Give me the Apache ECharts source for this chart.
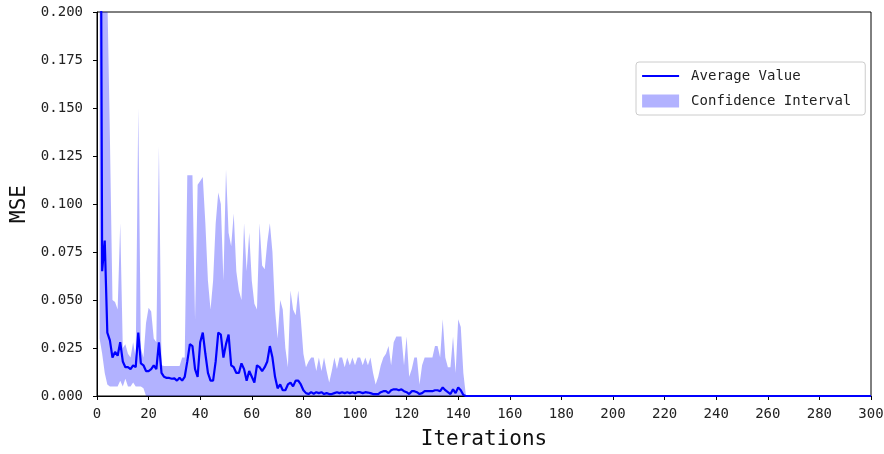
<!DOCTYPE html>
<html>
<head>
<meta charset="utf-8">
<script src="https://cdn.jsdelivr.net/npm/echarts@6/dist/echarts.min.js"></script>
<style>html,body{margin:0;padding:0;background:#fff;}#c{width:884px;height:454px;}</style>
</head>
<body>
<div id="c"></div>
<script>
// Iterations 1..300 (index + 1)
const meanValues = [
  0.45, 0.065, 0.081, 0.033, 0.029, 0.020, 0.023, 0.021, 0.028, 0.018,
  0.015, 0.015, 0.014, 0.016, 0.015, 0.033, 0.017, 0.016, 0.013, 0.013,
  0.014, 0.016, 0.014, 0.028, 0.012, 0.010, 0.0094, 0.0094, 0.0090, 0.0092,
  0.008, 0.0095, 0.008, 0.010, 0.018, 0.027, 0.026, 0.014, 0.010, 0.028,
  0.033, 0.022, 0.012, 0.008, 0.008, 0.018, 0.033, 0.032, 0.020, 0.027,
  0.032, 0.016, 0.015, 0.012, 0.012, 0.017, 0.014, 0.008, 0.013, 0.010,
  0.007, 0.016, 0.015, 0.013, 0.015, 0.018, 0.026, 0.020, 0.010, 0.004,
  0.006, 0.003, 0.003, 0.006, 0.007, 0.005, 0.008, 0.008, 0.006, 0.003,
  0.0015, 0.001, 0.002, 0.0012, 0.002, 0.0015, 0.002, 0.001, 0.0015, 0.001,
  0.001, 0.0015, 0.002, 0.0015, 0.002, 0.0015, 0.002, 0.0015, 0.002, 0.0015,
  0.002, 0.002, 0.0015, 0.002, 0.0018, 0.0015, 0.001, 0.001, 0.001, 0.002,
  0.0025, 0.0025, 0.0015, 0.003, 0.0035, 0.0035, 0.003, 0.0035, 0.0025, 0.002,
  0.001, 0.0025, 0.0025, 0.002, 0.001, 0.0015, 0.0025, 0.0025, 0.0025, 0.0025,
  0.003, 0.003, 0.0025, 0.0045, 0.003, 0.002, 0.001, 0.0035, 0.0015, 0.0045,
  0.003, 0.0005, 0, 0, 0, 0, 0, 0, 0, 0,
  0, 0, 0, 0, 0, 0, 0, 0, 0, 0,
  0, 0, 0, 0, 0, 0, 0, 0, 0, 0,
  0, 0, 0, 0, 0, 0, 0, 0, 0, 0,
  0, 0, 0, 0, 0, 0, 0, 0, 0, 0,
  0, 0, 0, 0, 0, 0, 0, 0, 0, 0,
  0, 0, 0, 0, 0, 0, 0, 0, 0, 0,
  0, 0, 0, 0, 0, 0, 0, 0, 0, 0,
  0, 0, 0, 0, 0, 0, 0, 0, 0, 0,
  0, 0, 0, 0, 0, 0, 0, 0, 0, 0,
  0, 0, 0, 0, 0, 0, 0, 0, 0, 0,
  0, 0, 0, 0, 0, 0, 0, 0, 0, 0,
  0, 0, 0, 0, 0, 0, 0, 0, 0, 0,
  0, 0, 0, 0, 0, 0, 0, 0, 0, 0,
  0, 0, 0, 0, 0, 0, 0, 0, 0, 0,
  0, 0, 0, 0, 0, 0, 0, 0, 0, 0
];
const upperValues = [
  0.6, 0.45, 0.3, 0.21, 0.135, 0.050, 0.049, 0.045, 0.090, 0.025,
  0.027, 0.022, 0.020, 0.028, 0.020, 0.150, 0.025, 0.020, 0.038, 0.046,
  0.044, 0.030, 0.028, 0.130, 0.016, 0.0156, 0.0156, 0.0156, 0.0156, 0.0156,
  0.0156, 0.0156, 0.020, 0.020, 0.115, 0.115, 0.115, 0.040, 0.110, 0.112,
  0.114, 0.090, 0.060, 0.045, 0.060, 0.090, 0.106, 0.100, 0.060, 0.118,
  0.085, 0.078, 0.095, 0.065, 0.055, 0.050, 0.090, 0.065, 0.085, 0.060,
  0.048, 0.045, 0.090, 0.068, 0.066, 0.080, 0.090, 0.075, 0.045, 0.030,
  0.050, 0.045, 0.025, 0.015, 0.055, 0.045, 0.042, 0.055, 0.040, 0.022,
  0.015, 0.018, 0.020, 0.020, 0.013, 0.020, 0.013, 0.020, 0.013, 0.007,
  0.013, 0.020, 0.014, 0.020, 0.020, 0.015, 0.020, 0.016, 0.020, 0.016,
  0.020, 0.020, 0.016, 0.020, 0.016, 0.020, 0.012, 0.006, 0.010, 0.016,
  0.020, 0.022, 0.026, 0.016, 0.028, 0.031, 0.031, 0.031, 0.016, 0.031,
  0.010, 0.014, 0.020, 0.020, 0.006, 0.016, 0.020, 0.020, 0.020, 0.020,
  0.026, 0.026, 0.020, 0.040, 0.020, 0.015, 0.015, 0.031, 0.012, 0.040,
  0.036, 0.012, 0, 0, 0, 0, 0, 0, 0, 0,
  0, 0, 0, 0, 0, 0, 0, 0, 0, 0,
  0, 0, 0, 0, 0, 0, 0, 0, 0, 0,
  0, 0, 0, 0, 0, 0, 0, 0, 0, 0,
  0, 0, 0, 0, 0, 0, 0, 0, 0, 0,
  0, 0, 0, 0, 0, 0, 0, 0, 0, 0,
  0, 0, 0, 0, 0, 0, 0, 0, 0, 0,
  0, 0, 0, 0, 0, 0, 0, 0, 0, 0,
  0, 0, 0, 0, 0, 0, 0, 0, 0, 0,
  0, 0, 0, 0, 0, 0, 0, 0, 0, 0,
  0, 0, 0, 0, 0, 0, 0, 0, 0, 0,
  0, 0, 0, 0, 0, 0, 0, 0, 0, 0,
  0, 0, 0, 0, 0, 0, 0, 0, 0, 0,
  0, 0, 0, 0, 0, 0, 0, 0, 0, 0,
  0, 0, 0, 0, 0, 0, 0, 0, 0, 0,
  0, 0, 0, 0, 0, 0, 0, 0, 0, 0
];
const lowerValues = [
  0.03, 0.022, 0.012, 0.006, 0.005, 0.005, 0.005, 0.005, 0.008, 0.005,
  0.009, 0.005, 0.005, 0.007, 0.005, 0.005, 0.005, 0.004, 0, 0,
  0, 0, 0, 0, 0, 0, 0, 0, 0, 0,
  0, 0, 0, 0, 0, 0, 0, 0, 0, 0,
  0, 0, 0, 0, 0, 0, 0, 0, 0, 0,
  0, 0, 0, 0, 0, 0, 0, 0, 0, 0,
  0, 0, 0, 0, 0, 0, 0, 0, 0, 0,
  0, 0, 0, 0, 0, 0, 0, 0, 0, 0,
  0, 0, 0, 0, 0, 0, 0, 0, 0, 0,
  0, 0, 0, 0, 0, 0, 0, 0, 0, 0,
  0, 0, 0, 0, 0, 0, 0, 0, 0, 0,
  0, 0, 0, 0, 0, 0, 0, 0, 0, 0,
  0, 0, 0, 0, 0, 0, 0, 0, 0, 0,
  0, 0, 0, 0, 0, 0, 0, 0, 0, 0,
  0, 0, 0, 0, 0, 0, 0, 0, 0, 0,
  0, 0, 0, 0, 0, 0, 0, 0, 0, 0,
  0, 0, 0, 0, 0, 0, 0, 0, 0, 0,
  0, 0, 0, 0, 0, 0, 0, 0, 0, 0,
  0, 0, 0, 0, 0, 0, 0, 0, 0, 0,
  0, 0, 0, 0, 0, 0, 0, 0, 0, 0,
  0, 0, 0, 0, 0, 0, 0, 0, 0, 0,
  0, 0, 0, 0, 0, 0, 0, 0, 0, 0,
  0, 0, 0, 0, 0, 0, 0, 0, 0, 0,
  0, 0, 0, 0, 0, 0, 0, 0, 0, 0,
  0, 0, 0, 0, 0, 0, 0, 0, 0, 0,
  0, 0, 0, 0, 0, 0, 0, 0, 0, 0,
  0, 0, 0, 0, 0, 0, 0, 0, 0, 0,
  0, 0, 0, 0, 0, 0, 0, 0, 0, 0,
  0, 0, 0, 0, 0, 0, 0, 0, 0, 0,
  0, 0, 0, 0, 0, 0, 0, 0, 0, 0
];
const seriesNames = ['Average Value', 'Confidence Interval'];
const xAxisTitle = 'Iterations';
const yAxisTitle = 'MSE';

const FONT = '"DejaVu Sans Mono", monospace';
// categories: iteration 0..300 (no sample at iteration 0)
const iterations = [0].concat(meanValues.map((_, i) => i + 1));
const meanData = [null].concat(meanValues);
const lowerData = [null].concat(lowerValues);
const bandData = [null].concat(upperValues.map((v, i) => v - lowerValues[i]));

const chart = echarts.init(document.getElementById('c'), null, {renderer: 'canvas'});
chart.setOption({
  animation: false,
  backgroundColor: '#ffffff',
  grid: {left: 97, right: 13, top: 12, bottom: 58, outerBoundsMode: 'none', containLabel: false,
         show: true, borderColor: '#000', borderWidth: 1, backgroundColor: 'transparent'},
  legend: {
    orient: 'vertical', left: 636, top: 62,
    padding: [7, 14, 7, 5],
    itemWidth: 37, itemHeight: 13, itemGap: 11,
    borderColor: '#cccccc', borderWidth: 1, borderRadius: 3, backgroundColor: '#fff',
    textStyle: {fontFamily: FONT, fontSize: 14, color: '#222', padding: [0, 0, 0, 7]},
    data: [
      {name: seriesNames[0], itemStyle: {opacity: 0}, lineStyle: {color: '#0000ff', width: 2.2}},
      {name: seriesNames[1], icon: 'rect'}
    ]
  },
  xAxis: {
    type: 'category', data: iterations, boundaryGap: false,
    name: xAxisTitle, nameLocation: 'middle', nameGap: 33,
    nameTextStyle: {fontFamily: FONT, fontSize: 21, color: '#111'},
    axisLine: {show: true, lineStyle: {color: '#000', width: 1}},
    axisTick: {show: true, length: 4, interval: 19, lineStyle: {color: '#000'}},
    axisLabel: {fontFamily: FONT, fontSize: 14, color: '#222', margin: 11, interval: 19, showMaxLabel: true},
    splitLine: {show: false}
  },
  yAxis: {
    type: 'value', min: 0, max: 0.2, interval: 0.025,
    name: yAxisTitle, nameLocation: 'middle', nameGap: 61,
    nameTextStyle: {fontFamily: FONT, fontSize: 21, color: '#111'},
    axisLine: {show: true, lineStyle: {color: '#000', width: 1}},
    axisTick: {show: true, length: 4, lineStyle: {color: '#000'}},
    axisLabel: {fontFamily: FONT, fontSize: 14, color: '#222', margin: 14, formatter: v => v.toFixed(3)},
    splitLine: {show: false}
  },
  series: [
    {
      name: '_lower', type: 'line', stack: 'ci', data: lowerData,
      symbol: 'none', silent: true, clip: true,
      lineStyle: {width: 0, opacity: 0}, z: 1
    },
    {
      name: seriesNames[1], type: 'line', stack: 'ci', data: bandData,
      symbol: 'none', clip: true, color: 'rgba(0,0,255,0.3)',
      itemStyle: {color: 'rgba(0,0,255,0.3)'},
      lineStyle: {width: 0, opacity: 0},
      areaStyle: {color: 'rgba(0,0,255,0.3)', opacity: 1}, z: 2
    },
    {
      name: seriesNames[0], type: 'line', data: meanData,
      symbol: 'none', clip: true, color: '#0000ff',
      lineStyle: {color: '#0000ff', width: 2.2}, z: 3
    }
  ]
});
</script>
</body>
</html>
